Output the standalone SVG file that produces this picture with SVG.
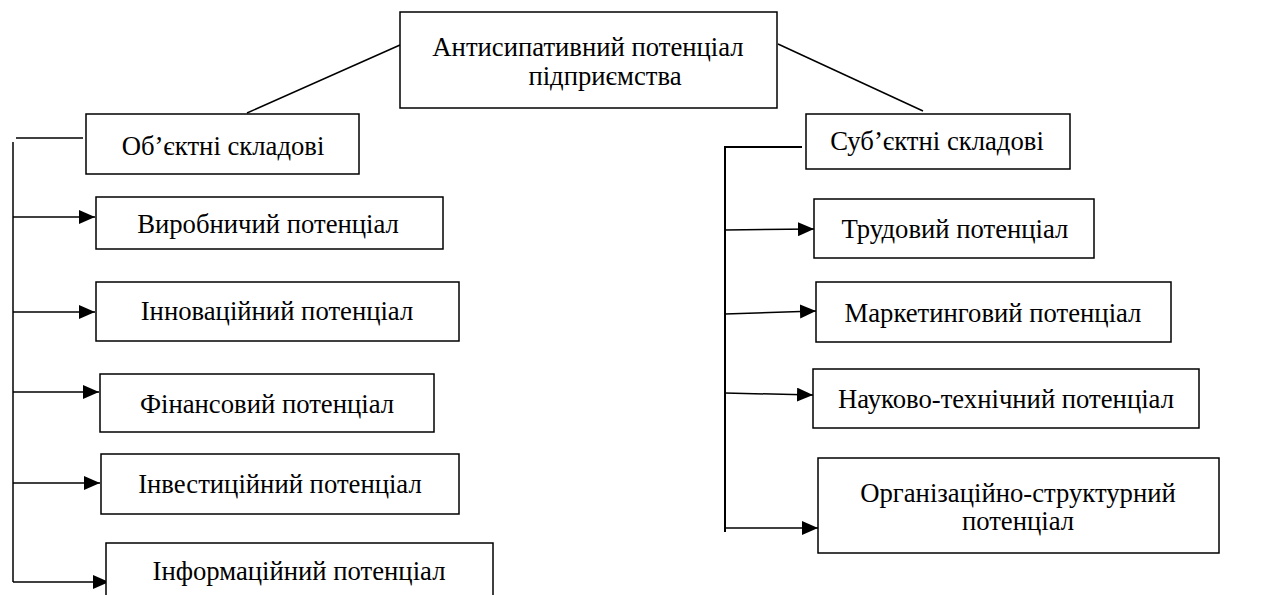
<svg xmlns="http://www.w3.org/2000/svg" width="1274" height="595" viewBox="0 0 1274 595">
<defs>
<marker id="ah" markerUnits="userSpaceOnUse" markerWidth="16" markerHeight="14" refX="16" refY="7" orient="auto" viewBox="0 0 16 14">
<path d="M0,0 L16,7 L0,14 z" fill="#000"/>
</marker>
</defs>
<rect width="1274" height="595" fill="#fff"/>
<g id="connectors" fill="none" stroke="#000" stroke-width="1.5">
<line x1="400" y1="45" x2="247" y2="113"/>
<line x1="778" y1="44" x2="923" y2="111"/>
<polyline points="83,138 16,138"/>
<line x1="13" y1="142" x2="13" y2="582"/>
<line x1="13" y1="217" x2="95" y2="217" marker-end="url(#ah)"/>
<line x1="13" y1="312" x2="95" y2="312" marker-end="url(#ah)"/>
<line x1="13" y1="392" x2="99" y2="392" marker-end="url(#ah)"/>
<line x1="13" y1="483" x2="100" y2="483" marker-end="url(#ah)"/>
<line x1="13" y1="582" x2="109" y2="582" marker-end="url(#ah)"/>
<polyline points="802,147 725,147 725,532" stroke-width="2"/>
<line x1="725" y1="230" x2="814" y2="229" marker-end="url(#ah)"/>
<line x1="725" y1="314" x2="816" y2="311" marker-end="url(#ah)"/>
<line x1="725" y1="393" x2="813" y2="395" marker-end="url(#ah)"/>
<line x1="725" y1="528" x2="818" y2="528" marker-end="url(#ah)"/>
</g>
<g id="root"><rect x="400" y="12" width="377" height="96" fill="#fff" stroke="#000" stroke-width="1.5"/>
<text font-family="'Liberation Serif', 'Times New Roman', serif" font-size="26.7" text-anchor="middle" x="588" y="56">Антисипативний потенціал</text>
<text font-family="'Liberation Serif', 'Times New Roman', serif" font-size="26.7" text-anchor="middle" x="605" y="85">підприємства</text></g>
<g id="obj"><rect x="86" y="114" width="273" height="60" fill="#fff" stroke="#000" stroke-width="1.5"/>
<text font-family="'Liberation Serif', 'Times New Roman', serif" font-size="26.7" text-anchor="middle" x="223" y="155">Об’єктні складові</text></g>
<g id="vyrob"><rect x="96" y="197" width="347" height="52" fill="#fff" stroke="#000" stroke-width="1.5"/>
<text font-family="'Liberation Serif', 'Times New Roman', serif" font-size="26.7" text-anchor="middle" x="268" y="233">Виробничий потенціал</text></g>
<g id="innov"><rect x="96" y="282" width="363" height="59" fill="#fff" stroke="#000" stroke-width="1.5"/>
<text font-family="'Liberation Serif', 'Times New Roman', serif" font-size="26.7" text-anchor="middle" x="277" y="320">Інноваційний потенціал</text></g>
<g id="fin"><rect x="100" y="374" width="334" height="58" fill="#fff" stroke="#000" stroke-width="1.5"/>
<text font-family="'Liberation Serif', 'Times New Roman', serif" font-size="26.7" text-anchor="middle" x="267" y="413">Фінансовий потенціал</text></g>
<g id="invest"><rect x="101" y="454" width="358" height="60" fill="#fff" stroke="#000" stroke-width="1.5"/>
<text font-family="'Liberation Serif', 'Times New Roman', serif" font-size="26.7" text-anchor="middle" x="280" y="493">Інвестиційний потенціал</text></g>
<g id="inform"><rect x="106" y="543" width="387" height="70" fill="#fff" stroke="#000" stroke-width="1.5"/>
<text font-family="'Liberation Serif', 'Times New Roman', serif" font-size="26.7" text-anchor="middle" x="299" y="580">Інформаційний потенціал</text></g>
<g id="subj"><rect x="806" y="114" width="264" height="55" fill="#fff" stroke="#000" stroke-width="1.5"/>
<text font-family="'Liberation Serif', 'Times New Roman', serif" font-size="26.7" text-anchor="middle" x="937" y="150">Суб’єктні складові</text></g>
<g id="trud"><rect x="814" y="199" width="280" height="59" fill="#fff" stroke="#000" stroke-width="1.5"/>
<text font-family="'Liberation Serif', 'Times New Roman', serif" font-size="26.7" text-anchor="middle" x="955" y="238">Трудовий потенціал</text></g>
<g id="market"><rect x="816" y="282" width="355" height="60" fill="#fff" stroke="#000" stroke-width="1.5"/>
<text font-family="'Liberation Serif', 'Times New Roman', serif" font-size="26.7" text-anchor="middle" x="993" y="322">Маркетинговий потенціал</text></g>
<g id="nauk"><rect x="813" y="369" width="386" height="59" fill="#fff" stroke="#000" stroke-width="1.5"/>
<text font-family="'Liberation Serif', 'Times New Roman', serif" font-size="26.7" text-anchor="middle" x="1006" y="408">Науково-технічний потенціал</text></g>
<g id="org"><rect x="818" y="458" width="401" height="95" fill="#fff" stroke="#000" stroke-width="1.5"/>
<text font-family="'Liberation Serif', 'Times New Roman', serif" font-size="26.7" text-anchor="middle" x="1018" y="502">Організаційно-структурний</text>
<text font-family="'Liberation Serif', 'Times New Roman', serif" font-size="26.7" text-anchor="middle" x="1018" y="530">потенціал</text></g>
</svg>
